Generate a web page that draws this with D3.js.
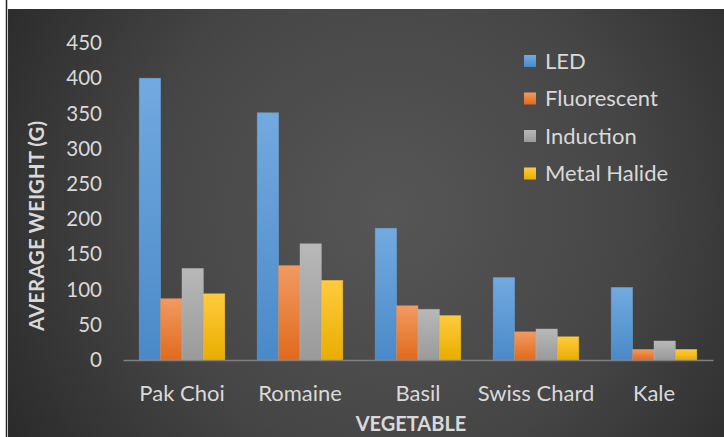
<!DOCTYPE html>
<html>
<head>
<meta charset="utf-8">
<script src="https://cdn.jsdelivr.net/npm/d3@7"></script>
<style>
  html, body { margin: 0; padding: 0; background: #ffffff; }
  svg { display: block; }
  text { font-family: Lato, "Open Sans", sans-serif; }
</style>
</head>
<body>
<script>
const categories = ["Pak Choi", "Romaine", "Basil", "Swiss Chard", "Kale"];
const seriesNames = ["LED", "Fluorescent", "Induction", "Metal Halide"];
const ledValues = [400, 351, 187, 117, 103];
const fluorescentValues = [87, 134, 77, 40, 15];
const inductionValues = [130, 165, 72, 44, 27];
const metalHalideValues = [94, 113, 63, 33, 15];
const yTicks = [0, 50, 100, 150, 200, 250, 300, 350, 400, 450];
const seriesColors = {
  "LED": ["#72aae0", "#4a89c8"],
  "Fluorescent": ["#f29a62", "#e06a1c"],
  "Induction": ["#b8b8b8", "#9a9a9a"],
  "Metal Halide": ["#ffcb3d", "#e8ad00"]
};

const seriesValues = [ledValues, fluorescentValues, inductionValues, metalHalideValues];
const data = categories.map((c, i) => ({
  category: c,
  values: seriesNames.map((s, j) => ({ series: s, value: seriesValues[j][i] }))
}));

const W = 724, H = 437;
const svg = d3.select("body").append("svg").attr("width", W).attr("height", H);
const defs = svg.append("defs");

const bg = defs.append("radialGradient").attr("id", "bg")
  .attr("gradientUnits", "userSpaceOnUse")
  .attr("cx", 390).attr("cy", 210).attr("r", 440);
bg.append("stop").attr("offset", "0").attr("stop-color", "#565656");
bg.append("stop").attr("offset", "0.55").attr("stop-color", "#464646");
bg.append("stop").attr("offset", "1").attr("stop-color", "#2b2b2b");

seriesNames.forEach((s, i) => {
  const g = defs.append("linearGradient").attr("id", "g" + i)
    .attr("x1", 0).attr("y1", 0).attr("x2", 0).attr("y2", 1);
  g.append("stop").attr("offset", "0").attr("stop-color", seriesColors[s][0]);
  g.append("stop").attr("offset", "1").attr("stop-color", seriesColors[s][1]);
});

// frame: white margin and thin dark line on left
svg.append("rect").attr("x", 0).attr("y", 0).attr("width", W).attr("height", H).attr("fill", "#ffffff");
svg.append("rect").attr("x", 8).attr("y", 9).attr("width", W - 8).attr("height", H - 9).attr("fill", "url(#bg)");
svg.append("line").attr("x1", 6.5).attr("x2", 6.5).attr("y1", 0).attr("y2", H)
  .attr("stroke", "#222").attr("stroke-width", 1.5);

const x0 = d3.scaleBand().domain(categories).range([123, 713]).paddingInner(0.275).paddingOuter(0.1375);
const x1 = d3.scaleBand().domain(seriesNames).range([0, x0.bandwidth()]);
const y = d3.scaleLinear().domain([0, 450]).range([360, 43]);

// bars
const groups = svg.append("g").selectAll("g").data(data).join("g")
  .attr("transform", d => `translate(${x0(d.category)},0)`);
groups.selectAll("rect").data(d => d.values).join("rect")
  .attr("x", d => x1(d.series))
  .attr("y", d => y(d.value))
  .attr("width", x1.bandwidth())
  .attr("height", d => y(0) - y(d.value))
  .attr("fill", d => `url(#g${seriesNames.indexOf(d.series)})`)
  .attr("stroke", d => seriesColors[d.series][0])
  .attr("stroke-opacity", 0.5)
  .attr("stroke-width", 0.8);

// y axis labels (no line)
const yAxis = d3.axisLeft(y).tickValues(yTicks).tickSize(0).tickPadding(0);
const yg = svg.append("g").attr("transform", "translate(102,0)").call(yAxis);
yg.select(".domain").remove();
yg.selectAll("text").attr("fill", "#d9d9d9").style("font-size", "20.5px").style("font-family", "Lato, sans-serif");

// x axis
const xAxis = d3.axisBottom(x0).tickSize(0).tickPadding(0);
const xg = svg.append("g").attr("transform", "translate(0,360)").call(xAxis);
xg.select(".domain").attr("stroke", "#7f7f7f").attr("stroke-width", 1.5);
xg.selectAll("text").attr("fill", "#d9d9d9").style("font-size", "22px")
  .style("font-family", "Lato, sans-serif").attr("dy", null).attr("y", 41);

// axis titles
svg.append("text").attr("x", 411).attr("y", 431).attr("text-anchor", "middle")
  .attr("fill", "#d9d9d9").style("font-size", "20px").style("font-weight", "bold").text("VEGETABLE");
svg.append("text").attr("transform", "translate(44,226) rotate(-90)").attr("text-anchor", "middle")
  .attr("fill", "#d9d9d9").style("font-size", "20.5px").style("font-weight", "bold").text("AVERAGE WEIGHT (G)");

// legend
const legend = svg.append("g").selectAll("g").data(seriesNames).join("g")
  .attr("transform", (d, i) => `translate(524,${61 + i * 37.5})`);
legend.append("rect").attr("x", 0).attr("y", -6).attr("width", 12).attr("height", 12)
  .attr("fill", (d, i) => `url(#g${i})`);
legend.append("text").attr("x", 21).attr("y", 7.5).attr("fill", "#d9d9d9")
  .style("font-size", "22px").text(d => d);
</script>
</body>
</html>
